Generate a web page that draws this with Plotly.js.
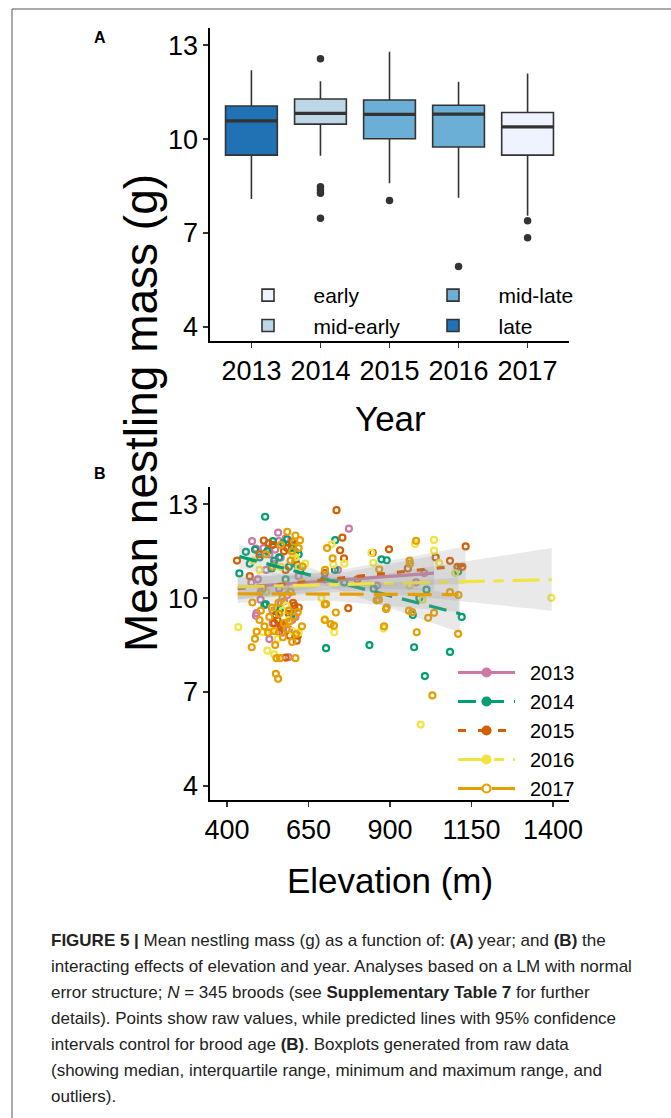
<!DOCTYPE html>
<html>
<head>
<meta charset="utf-8">
<script src="https://cdn.plot.ly/plotly-3.0.1.min.js"></script>
<style>html,body{margin:0;padding:0;background:#fff;}#chart{width:671px;height:1118px;}</style>
</head>
<body>
<div id="chart"></div>
<script>
// ---------- Panel A data (boxplots by year) ----------
const years = [2013, 2014, 2015, 2016, 2017];
const yearLabels = ['2013', '2014', '2015', '2016', '2017'];
const period = ['late', 'mid-early', 'mid-late', 'mid-late', 'early'];
const q1 = [9.49, 10.48, 10.01, 9.75, 9.49];
const median = [10.58, 10.82, 10.79, 10.80, 10.39];
const q3 = [11.06, 11.28, 11.25, 11.08, 10.85];
const whiskerLow = [8.09, 9.47, 8.59, 8.13, 7.55];
const whiskerHigh = [12.20, 11.85, 12.79, 11.83, 12.10];
const outlierYear = [2014, 2014, 2014, 2014, 2014, 2015, 2016, 2017, 2017];
const outlierMass = [12.57, 8.48, 8.38, 8.27, 7.47, 8.04, 5.93, 7.39, 6.85];
const periodOrder = ['early', 'mid-early', 'mid-late', 'late'];
const periodColor = {'early': '#EFF3FF', 'mid-early': '#BDD7E7', 'mid-late': '#6BAED6', 'late': '#2171B5'};

// ---------- Panel B data (raw points by year) ----------
const elev2013 = [477,489,557,559,580,774,491,489,530,589,495,520,545,565,600,575,560,610,590,505,540,620,598,475,512,1005,980,860,700,740,540,585,570,600,530,548,566,607,615,503];
const mass2013 = [11.82,11.58,12.09,11.82,11.9,12.22,9.52,9.44,8.69,8.11,10.6,10.9,11.1,11.3,9.3,9.9,10.3,9.4,9.0,10.2,9.6,10.7,11.5,10.5,11.6,10.8,10.5,10.4,10.6,10.9,9.2,10.1,8.9,11.7,11.4,11.55,9.85,9.65,11.05,9.95];
const elev2014 = [517,541,585,524,609,458,438,515,562,519,732,704,837,974,1007,1084,970,874,890,1109,1012,731,545,590,600,470,500,560,580,620,555,600,850,990,1120,760,625,572,598,537,612,486];
const mass2014 = [12.60,11.82,11.88,11.50,11.48,11.48,10.79,9.78,9.63,9.81,11.85,8.40,8.50,8.43,7.51,8.28,9.46,11.24,11.21,10.85,10.27,10.90,11.2,11.0,11.6,11.1,11.3,11.3,10.6,11.4,9.55,9.5,10.3,10.0,9.4,10.5,10.9,11.75,11.68,10.95,11.1,11.55];
const elev2015 = [513,431,736,754,747,759,772,607,617,614,847,897,1132,1084,1107,1122,540,575,600,470,555,565,590,545,580,560,620,500,610,955,1040,800,700,580,528,592,571,549,603,584];
const mass2015 = [11.84,11.20,12.81,11.93,11.53,11.27,9.68,9.76,8.80,8.64,11.45,11.56,11.65,11.19,11.0,11.0,11.7,11.5,11.8,10.7,9.3,9.1,9.5,9.2,8.1,8.9,9.7,11.4,11.2,10.95,11.3,10.6,10.8,10.9,11.75,8.8,9.15,9.45,9.85,11.6];
const elev2016 = [721,726,843,849,977,1035,1035,1051,1395,994,880,729,700,435,511,524,610,620,565,480,500,540,590,600,555,545,630,1000,960,1100,690,760,620,580,536,571,603,582,521,640];
const mass2016 = [11.72,11.08,11.45,11.13,11.73,11.86,11.52,11.12,10.01,5.96,9.03,8.91,9.33,9.07,8.91,8.32,11.3,11.0,11.0,11.2,10.9,9.7,9.3,8.95,8.7,8.2,10.5,9.95,10.4,10.8,10.0,11.1,8.9,10.4,8.95,9.6,11.35,9.75,10.2,11.1];
const elev2017 = [585,606,632,707,724,704,478,476,734,718,728,700,982,882,890,1030,958,968,1017,1035,1084,1109,980,961,552,563,610,550,557,491,486,500,515,530,545,560,575,590,605,600,570,595,620,595,565,610,540,520,888,866,859,701,867,1110,960,510,600,630,548,700,583,572,592,617,526,537,558,612,504,624];
const mass2017 = [12.12,11.80,11.01,11.60,11.27,9.81,9.86,8.43,9.54,9.17,9.12,9.30,8.91,9.10,9.70,6.89,9.60,9.55,9.37,9.53,10.19,8.86,11.83,11.10,8.08,8.08,8.08,7.58,7.42,8.93,8.7,9.3,9.1,9.4,8.95,9.5,9.2,9.6,9.4,8.6,10.0,10.2,11.6,11.2,11.7,12.0,11.0,11.4,9.65,9.95,9.93,10.90,10.92,10.1,11.2,10.3,11.5,9.1,8.5,9.8,9.0,8.75,9.25,9.55,8.9,9.7,9.85,8.85,9.6,11.85];

// ---------- Panel B fitted lines and 95% CI ----------
const fitElev2013 = [490, 760, 1035], fitMass2013 = [10.38, 10.58, 10.80], ciLo2013 = [9.98, 10.33, 10.25], ciHi2013 = [10.78, 10.83, 11.35];
const fitElev2014 = [438, 700, 1115], fitMass2014 = [11.33, 10.61, 9.50], ciLo2014 = [10.95, 10.41, 8.90], ciHi2014 = [11.71, 10.81, 10.10];
const fitElev2015 = [433, 700, 1132], fitMass2015 = [10.30, 10.58, 11.05], ciLo2015 = [9.95, 10.36, 10.45], ciHi2015 = [10.65, 10.80, 11.65];
const fitElev2016 = [433, 800, 1396], fitMass2016 = [10.36, 10.44, 10.59], ciLo2016 = [9.96, 10.24, 9.60], ciHi2016 = [10.76, 10.64, 11.60];
const fitElev2017 = [433, 700, 1110], fitMass2017 = [10.14, 10.13, 10.11], ciLo2017 = [9.84, 9.93, 9.56], ciHi2017 = [10.44, 10.33, 10.66];

const seriesB = [
  {name: '2013', color: '#CC79A7', dash: 'solid', sym: 'circle', x: elev2013, y: mass2013, fx: fitElev2013, fy: fitMass2013, lo: ciLo2013, hi: ciHi2013},
  {name: '2014', color: '#009E73', dash: '18px,10px', sym: 'circle', x: elev2014, y: mass2014, fx: fitElev2014, fy: fitMass2014, lo: ciLo2014, hi: ciHi2014},
  {name: '2015', color: '#D55E00', dash: '8px,12px', sym: 'circle', x: elev2015, y: mass2015, fx: fitElev2015, fy: fitMass2015, lo: ciLo2015, hi: ciHi2015},
  {name: '2016', color: '#F0E442', dash: '27px,9px,10px,9px', sym: 'circle', x: elev2016, y: mass2016, fx: fitElev2016, fy: fitMass2016, lo: ciLo2016, hi: ciHi2016},
  {name: '2017', color: '#E69F00', dash: '24px,10px', sym: 'circle-open', x: elev2017, y: mass2017, fx: fitElev2017, fy: fitMass2017, lo: ciLo2017, hi: ciHi2017}
];

const captionLines = [
  '<b>FIGURE 5 |</b> Mean nestling mass (g) as a function of: <b>(A)</b> year; and <b>(B)</b> the',
  'interacting effects of elevation and year. Analyses based on a LM with normal',
  'error structure; <i>N</i> = 345 broods (see <b>Supplementary Table 7</b> for further',
  'details). Points show raw values, while predicted lines with 95% confidence',
  'intervals control for brood age <b>(B)</b>. Boxplots generated from raw data',
  '(showing median, interquartile range, minimum and maximum range, and',
  'outliers).'
];

// ---------- build ----------
const W = 671, H = 1118;
const px = v => v / W, py = v => 1 - v / H;
const FONT = 'Liberation Sans, Arial, sans-serif';
const GAP = '\u2002';
const traces = [];
const boxWidth = 0.75;

years.forEach((yr, i) => {
  const p = period[i];
  const firstOfPeriod = period.indexOf(p) === i;
  const rank = periodOrder.indexOf(p);
  traces.push({
    type: 'box', x: [yr], q1: [q1[i]], median: [median[i]], q3: [q3[i]],
    lowerfence: [whiskerLow[i]], upperfence: [whiskerHigh[i]],
    width: boxWidth, whiskerwidth: 0, boxpoints: false,
    fillcolor: periodColor[p], line: {color: '#333333', width: 1.6},
    name: GAP + p, showlegend: firstOfPeriod, legend: rank < 2 ? 'legend' : 'legend3',
    legendrank: rank + 1, xaxis: 'x', yaxis: 'y', hoverinfo: 'skip'
  });
});
// thick medians
const medX = [], medY = [];
years.forEach((yr, i) => { medX.push(yr - boxWidth / 2, yr + boxWidth / 2, null); medY.push(median[i], median[i], null); });
traces.push({type: 'scatter', mode: 'lines', x: medX, y: medY, line: {color: '#333333', width: 3.2}, showlegend: false, xaxis: 'x', yaxis: 'y', hoverinfo: 'skip'});
traces.push({type: 'scatter', mode: 'markers', x: outlierYear, y: outlierMass, marker: {color: '#333333', size: 7.5}, showlegend: false, xaxis: 'x', yaxis: 'y', hoverinfo: 'skip'});

// Panel B points
seriesB.forEach(s => {
  traces.push({type: 'scatter', mode: 'markers', x: s.x, y: s.y, xaxis: 'x2', yaxis: 'y2',
    marker: {symbol: 'circle-open', size: 6, color: s.color, line: {width: 2.2, color: s.color}},
    showlegend: false, hoverinfo: 'skip'});
});
// ribbons and lines
seriesB.forEach(s => {
  const polyX = s.fx.concat(s.fx.slice().reverse());
  const polyY = s.hi.concat(s.lo.slice().reverse());
  traces.push({type: 'scatter', mode: 'lines', x: polyX, y: polyY, fill: 'toself', fillcolor: 'rgba(153,153,153,0.22)',
    line: {width: 0}, showlegend: false, xaxis: 'x2', yaxis: 'y2', hoverinfo: 'skip'});
  traces.push({type: 'scatter', mode: 'lines', x: s.fx, y: s.fy, line: {color: s.color, width: 3.2, dash: s.dash},
    showlegend: false, xaxis: 'x2', yaxis: 'y2', hoverinfo: 'skip'});
});
// legend entries for panel B
seriesB.forEach((s, i) => {
  traces.push({type: 'scatter', mode: 'lines+markers', x: [null], y: [null], name: GAP + s.name, legend: 'legend2',
    line: {color: s.color, width: 3.2, dash: s.dash},
    marker: {symbol: s.sym, size: 8, color: s.color, line: {width: 2.2, color: s.color}},
    xaxis: 'x2', yaxis: 'y2', legendrank: i + 1});
});

const axisCommon = {
  showline: true, linecolor: '#000', linewidth: 1.6, ticks: 'outside', ticklen: 5, tickwidth: 1.6, tickcolor: '#333',
  showgrid: false, zeroline: false, tickfont: {family: FONT, size: 27, color: '#000'}, fixedrange: true, automargin: false
};

const annotations = [
  {text: '<b>A</b>', x: px(100), y: py(37), font: {family: FONT, size: 16, color: '#000'}},
  {text: '<b>B</b>', x: px(100), y: py(473), font: {family: FONT, size: 16, color: '#000'}},
  {text: 'Year', x: px(390), y: py(418), font: {family: FONT, size: 35, color: '#000'}},
  {text: 'Elevation (m)', x: px(390), y: py(880), font: {family: FONT, size: 35, color: '#000'}},
  {text: 'Mean nestling mass (g)', x: px(141), y: py(413), textangle: -90, font: {family: FONT, size: 46, color: '#000'}}
].map(a => Object.assign({xref: 'paper', yref: 'paper', showarrow: false, xanchor: 'center', yanchor: 'middle'}, a));

captionLines.forEach((t, i) => {
  annotations.push({text: t, xref: 'paper', yref: 'paper', x: px(49), y: py(940 + i * 26), xanchor: 'left', yanchor: 'middle',
    showarrow: false, align: 'left', font: {family: FONT, size: 17, color: '#222'}});
});

const legendCommon = {orientation: 'v', xref: 'container', yref: 'container', xanchor: 'left', yanchor: 'top',
  bgcolor: 'rgba(0,0,0,0)', borderwidth: 0, traceorder: 'normal', itemclick: false, itemdoubleclick: false, tracegroupgap: 0};

const layout = {
  width: W, height: H, margin: {l: 0, r: 0, t: 0, b: 0, autoexpand: false}, paper_bgcolor: '#fff', plot_bgcolor: '#fff',
  showlegend: true, boxmode: 'overlay',
  xaxis: Object.assign({}, axisCommon, {domain: [px(210), px(569)], range: [2012.4, 2017.6], tickvals: years, ticktext: yearLabels, anchor: 'y'}),
  yaxis: Object.assign({}, axisCommon, {domain: [py(341), py(28)], range: [3.55, 13.55], tickvals: [4, 7, 10, 13], anchor: 'x'}),
  xaxis2: Object.assign({}, axisCommon, {domain: [px(210), px(569)], range: [348, 1449], tickvals: [400, 650, 900, 1150, 1400], anchor: 'y2'}),
  yaxis2: Object.assign({}, axisCommon, {domain: [py(800), py(487)], range: [3.55, 13.55], tickvals: [4, 7, 10, 13], anchor: 'x2'}),
  legend: Object.assign({}, legendCommon, {x: px(233), y: py(275), itemwidth: 60, font: {family: FONT, size: 21, color: '#000'}}),
  legend3: Object.assign({}, legendCommon, {x: px(418), y: py(275), itemwidth: 60, font: {family: FONT, size: 21, color: '#000'}}),
  legend2: Object.assign({}, legendCommon, {x: px(453), y: py(653), itemwidth: 57, font: {family: FONT, size: 20, color: '#000'}}),
  annotations: annotations,
  shapes: [
    {type: 'line', xref: 'paper', yref: 'paper', x0: px(12), x1: 1, y0: py(9), y1: py(9), line: {color: '#555', width: 1}},
    {type: 'line', xref: 'paper', yref: 'paper', x0: px(12), x1: px(12), y0: py(9), y1: 0, line: {color: '#555', width: 1}}
  ]
};

Plotly.newPlot('chart', traces, layout, {staticPlot: true, displayModeBar: false});
</script>
</body>
</html>
